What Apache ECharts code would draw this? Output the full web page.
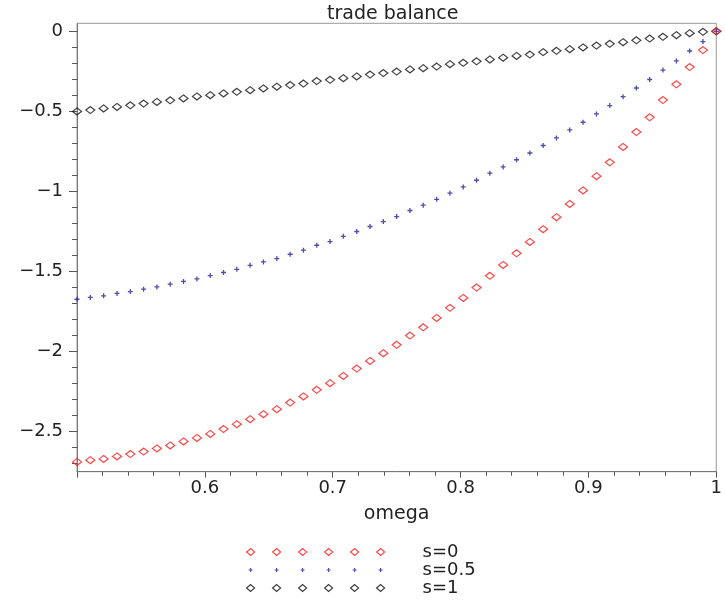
<!DOCTYPE html>
<html>
<head>
<meta charset="utf-8">
<script src="https://cdn.jsdelivr.net/npm/echarts@6/dist/echarts.min.js"></script>
<style>html,body{margin:0;padding:0;background:#fff;}#c{width:725px;height:602px;}</style>
</head>
<body>
<div id="c"></div>
<script>
var omega = [0.5, 0.5104, 0.5208, 0.5313, 0.5417, 0.5521, 0.5625, 0.5729, 0.5833, 0.5938,
  0.6042, 0.6146, 0.625, 0.6354, 0.6458, 0.6563, 0.6667, 0.6771, 0.6875, 0.6979,
  0.7083, 0.7188, 0.7292, 0.7396, 0.75, 0.7604, 0.7708, 0.7813, 0.7917, 0.8021,
  0.8125, 0.8229, 0.8333, 0.8438, 0.8542, 0.8646, 0.875, 0.8854, 0.8958, 0.9063,
  0.9167, 0.9271, 0.9375, 0.9479, 0.9583, 0.9688, 0.9792, 0.9896, 1.0];
var s0 = [-2.689, -2.678, -2.670, -2.655, -2.640, -2.624, -2.605, -2.586, -2.561, -2.539,
  -2.514, -2.484, -2.453, -2.422, -2.391, -2.360, -2.318, -2.280, -2.239, -2.197,
  -2.152, -2.106, -2.058, -2.010, -1.958, -1.900, -1.848, -1.790, -1.727, -1.665,
  -1.600, -1.527, -1.459, -1.386, -1.315, -1.236, -1.161, -1.078, -0.994, -0.905,
  -0.818, -0.722, -0.629, -0.537, -0.429, -0.331, -0.223, -0.117, 0];
var s05 = [-1.673, -1.662, -1.652, -1.637, -1.625, -1.610, -1.596, -1.579, -1.562, -1.546,
  -1.525, -1.506, -1.486, -1.461, -1.440, -1.419, -1.392, -1.367, -1.336, -1.313,
  -1.280, -1.250, -1.219, -1.188, -1.157, -1.119, -1.086, -1.049, -1.011, -0.972,
  -0.930, -0.886, -0.847, -0.802, -0.760, -0.713, -0.666, -0.616, -0.568, -0.516,
  -0.464, -0.408, -0.354, -0.301, -0.242, -0.185, -0.123, -0.064, 0];
var s1 = [-0.500, -0.492, -0.482, -0.472, -0.462, -0.451, -0.441, -0.431, -0.419, -0.407,
  -0.399, -0.388, -0.378, -0.368, -0.357, -0.346, -0.336, -0.326, -0.311, -0.303,
  -0.293, -0.282, -0.270, -0.261, -0.251, -0.238, -0.230, -0.220, -0.205, -0.197,
  -0.187, -0.176, -0.165, -0.154, -0.145, -0.130, -0.122, -0.112, -0.101, -0.089,
  -0.078, -0.068, -0.056, -0.045, -0.034, -0.024, -0.012, -0.003, 0];
var seriesNames = ['s=0', 's=0.5', 's=1'];
var xTickLabels = [0.6, 0.7, 0.8, 0.9, 1];
var yTickLabels = [0, -0.5, -1, -1.5, -2, -2.5];
var yMinorTicks = [-0.1, -0.2, -0.3, -0.4, -0.6, -0.7, -0.8, -0.9, -1.1, -1.2, -1.3, -1.4,
  -1.6, -1.7, -1.8, -1.9, -2.1, -2.2, -2.3, -2.4, -2.6, -2.7];

function pairs(ys) { return omega.map(function (x, i) { return [x, ys[i]]; }); }

var FONT = 'DejaVu Sans';
var RED = '#ff1a1a', BLUE = '#22229a', BLACK = '#111111';

function diamondsPath() {
  var p = 'M0 0M171 7';
  for (var i = 0; i < 6; i++) {
    var c = 4 + 26 * i;
    p += 'M' + (c - 4) + ' 3.5L' + c + ' 0L' + (c + 4) + ' 3.5L' + c + ' 7Z';
  }
  return 'path://' + p;
}
function plusPath() {
  var p = 'M0 0M171 7';
  for (var i = 0; i < 6; i++) {
    var c = 4 + 26 * i;
    p += 'M' + (c - 2) + ' 3.5L' + (c + 2) + ' 3.5M' + c + ' 1.5L' + c + ' 5.5';
  }
  return 'path://' + p;
}

var chart = echarts.init(document.getElementById('c'), null, { renderer: 'canvas' });
var fmtY = function (v) { return String(v).replace('-', '\u2212'); };
chart.setOption({
  animation: false,
  backgroundColor: '#fff',
  title: {
    text: 'trade balance', left: 327, top: 5, padding: 0,
    textStyle: { fontFamily: FONT, fontSize: 19, fontWeight: 'normal', color: '#222' }
  },
  grid: { left: 77, right: 2, top: 23.3, bottom: 130.3, show: true, borderColor: '#999', borderWidth: 1, containLabel: false },
  legend: {
    orient: 'vertical', left: 246, top: 543, padding: 0, itemGap: 0,
    itemWidth: 171, itemHeight: 7, selectedMode: false,
    textStyle: { fontFamily: FONT, fontSize: 18, color: '#222', lineHeight: 18 },
    data: [
      { name: seriesNames[0], icon: diamondsPath(), itemStyle: { color: 'rgba(0,0,0,0)', borderColor: RED, borderWidth: 1.2 } },
      { name: seriesNames[1], icon: plusPath(), itemStyle: { color: 'rgba(0,0,0,0)', borderColor: BLUE, borderWidth: 1.2 } },
      { name: seriesNames[2], icon: diamondsPath(), itemStyle: { color: 'rgba(0,0,0,0)', borderColor: BLACK, borderWidth: 1.2 } }
    ]
  },
  xAxis: {
    type: 'value', min: 0.5, max: 1, interval: 0.1,
    name: 'omega', nameLocation: 'middle', nameGap: 33,
    nameTextStyle: { fontFamily: FONT, fontSize: 19, color: '#222' },
    axisLine: { show: true, onZero: false, lineStyle: { color: '#777', width: 1 } },
    axisTick: { show: true, length: 6, lineStyle: { color: '#555' } },
    minorTick: { show: true, splitNumber: 5, length: 4, lineStyle: { color: '#555' } },
    axisLabel: { margin: 8, fontFamily: FONT, fontSize: 18, color: '#222',
      customValues: xTickLabels, formatter: function (v) { return String(v); } },
    splitLine: { show: false }
  },
  yAxis: [{
    type: 'value', min: -2.75, max: 0.05, position: 'left',
    axisLine: { show: true, onZero: false, lineStyle: { color: '#777', width: 1 } },
    axisTick: { show: true, length: 8, customValues: yTickLabels, lineStyle: { color: '#555' } },
    axisLabel: { margin: 14, fontFamily: FONT, fontSize: 18, color: '#222', customValues: yTickLabels, formatter: fmtY },
    splitLine: { show: false }
  }, {
    type: 'value', min: -2.75, max: 0.05, position: 'left',
    axisLine: { show: false },
    axisTick: { show: true, length: 5, customValues: yMinorTicks, lineStyle: { color: '#555' } },
    axisLabel: { show: false },
    splitLine: { show: false }
  }],
  series: [
    { name: seriesNames[2], type: 'scatter', data: pairs(s1), symbol: 'diamond', symbolSize: [9, 7],
      itemStyle: { color: 'rgba(0,0,0,0)', borderColor: BLACK, borderWidth: 1.2 } },
    { name: seriesNames[1], type: 'scatter', data: pairs(s05), symbol: 'path://M0 3L6 3M3 0L3 6', symbolSize: 5,
      itemStyle: { color: 'rgba(0,0,0,0)', borderColor: BLUE, borderWidth: 1.3 } },
    { name: seriesNames[0], type: 'scatter', data: pairs(s0), symbol: 'diamond', symbolSize: [9, 7],
      itemStyle: { color: 'rgba(0,0,0,0)', borderColor: RED, borderWidth: 1.2 } }
  ]
});
</script>
</body>
</html>
